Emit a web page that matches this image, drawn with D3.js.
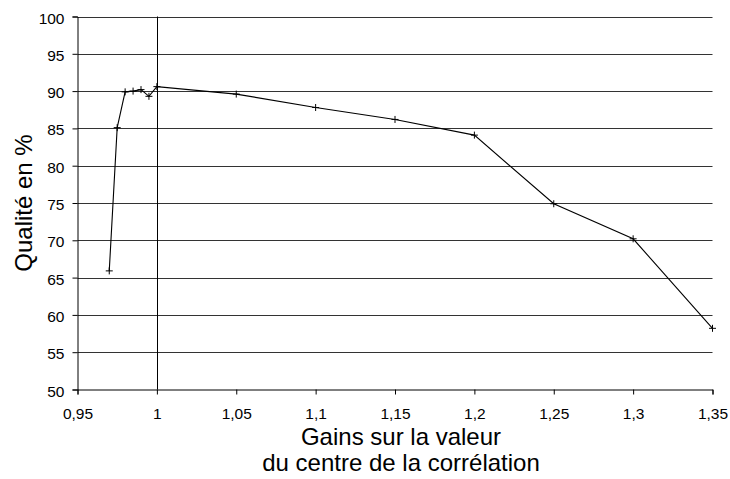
<!DOCTYPE html>
<html>
<head>
<meta charset="utf-8">
<script src="https://cdn.jsdelivr.net/npm/d3@7"></script>
<style>
html,body{margin:0;padding:0;background:#fff;}
svg{display:block;}
text{font-family:"Liberation Sans",Arial,Helvetica,sans-serif;fill:#000;}
</style>
</head>
<body>
<svg id="chart" width="730" height="479"></svg>
<script>
const xValues = [0.97, 0.975, 0.98, 0.985, 0.99, 0.995, 1.0, 1.05, 1.1, 1.15, 1.2, 1.25, 1.3, 1.35];
const qualite = [65.9, 85.1, 89.9, 90.0, 90.2, 89.3, 90.6, 89.6, 87.8, 86.2, 84.1, 74.9, 70.2, 58.2];
const xTicks = [0.95, 1.0, 1.05, 1.1, 1.15, 1.2, 1.25, 1.3, 1.35];
const xTickLabels = ["0,95", "1", "1,05", "1,1", "1,15", "1,2", "1,25", "1,3", "1,35"];
const yTicks = [50, 55, 60, 65, 70, 75, 80, 85, 90, 95, 100];
const yTitle = "Qualité en %";
const xTitle = ["Gains sur la valeur", "du centre de la corrélation"];

const svg = d3.select("#chart");
const pL = 77.5, pR = 712.5, pT = 16.5, pB = 389.5;
const x = d3.scaleLinear().domain([0.95, 1.35]).range([pL, pR]);
const y = d3.scaleLinear().domain([50, 100]).range([pB, pT]);
const tickFont = 15.5, titleFont = 24;

// horizontal gridlines
svg.append("g").selectAll("line").data(yTicks.filter(d => d > 50)).join("line")
  .attr("x1", pL).attr("x2", pR)
  .attr("y1", d => Math.round(y(d)) + 0.5).attr("y2", d => Math.round(y(d)) + 0.5)
  .attr("stroke", "#333").attr("stroke-width", 1);

// vertical line at x = 1
svg.append("line")
  .attr("x1", Math.round(x(1)) + 0.5).attr("x2", Math.round(x(1)) + 0.5)
  .attr("y1", pT).attr("y2", pB)
  .attr("stroke", "#000");

// y axis
const yAxis = d3.axisLeft(y).tickValues(yTicks).tickSize(5).tickPadding(8).tickFormat(d => String(d));
const gy = svg.append("g").attr("transform", `translate(${pL},0)`).call(yAxis);
gy.select(".domain").attr("stroke", "#000");
gy.selectAll(".tick line").attr("stroke", "#000");
gy.selectAll(".tick text").attr("font-size", tickFont).attr("dy", "0.42em")
  .attr("font-family", "Liberation Sans, Arial, sans-serif").attr("fill", "#000");

// x axis
const xAxis = d3.axisBottom(x).tickValues(xTicks).tickSize(5).tickPadding(13)
  .tickFormat((d, i) => xTickLabels[i]);
const gx = svg.append("g").attr("transform", `translate(0,${pB})`).call(xAxis);
gx.select(".domain").attr("stroke", "#000");
gx.selectAll(".tick line").attr("stroke", "#000");
gx.selectAll(".tick text").attr("font-size", tickFont)
  .attr("font-family", "Liberation Sans, Arial, sans-serif").attr("fill", "#000");

// data line
const pts = xValues.map((v, i) => [v, qualite[i]]);
svg.append("path").datum(pts)
  .attr("fill", "none").attr("stroke", "#000").attr("stroke-width", 1.1)
  .attr("d", d3.line().x(d => x(d[0])).y(d => y(d[1])));

// + markers
const m = 3.5;
const mk = svg.append("g").selectAll("g").data(pts).join("g")
  .attr("transform", d => `translate(${x(d[0])},${y(d[1])})`);
mk.append("line").attr("x1", -m).attr("x2", m).attr("y1", 0).attr("y2", 0).attr("stroke", "#000");
mk.append("line").attr("x1", 0).attr("x2", 0).attr("y1", -m).attr("y2", m).attr("stroke", "#000");

// titles
svg.append("text").attr("transform", `translate(32,${(pT + pB) / 2}) rotate(-90)`)
  .attr("text-anchor", "middle").attr("font-size", titleFont).attr("fill", "#222").text(yTitle);
svg.append("text").attr("x", 401).attr("y", 444.5)
  .attr("text-anchor", "middle").attr("font-size", titleFont).attr("fill", "#222").text(xTitle[0]);
svg.append("text").attr("x", 401).attr("y", 471)
  .attr("text-anchor", "middle").attr("font-size", titleFont).attr("fill", "#222").text(xTitle[1]);
</script>
</body>
</html>
